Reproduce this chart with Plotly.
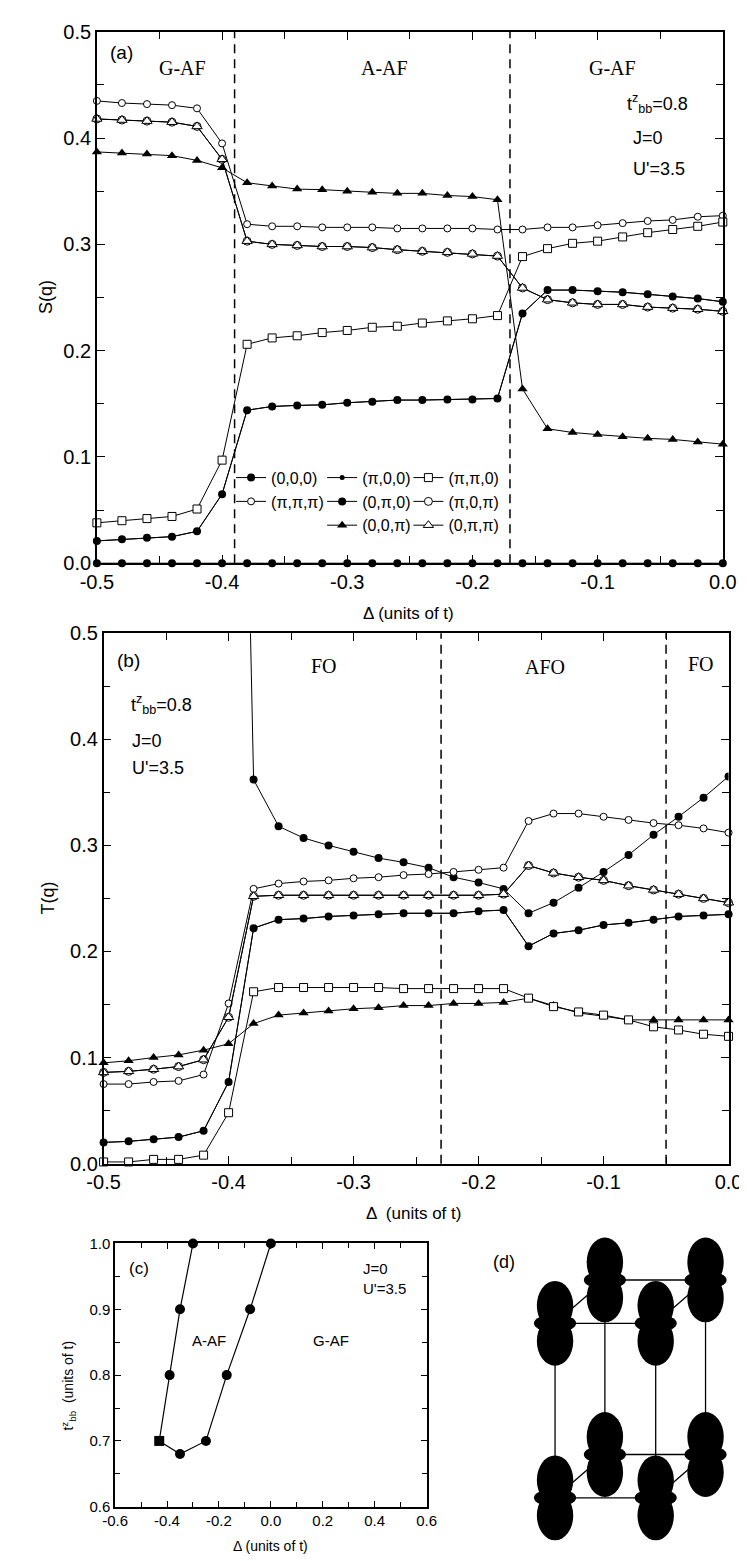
import plotly.graph_objects as go

W, H = 747, 1561

# ========== Data ==========
# common Delta grid (units of t) for panels (a) and (b)
delta = [-0.50, -0.48, -0.46, -0.44, -0.42, -0.40, -0.38, -0.36, -0.34, -0.32,
         -0.30, -0.28, -0.26, -0.24, -0.22, -0.20, -0.18, -0.16, -0.14, -0.12,
         -0.10, -0.08, -0.06, -0.04, -0.02, 0.00]

q_labels = ["(0,0,0)", "(π,π,π)", "(π,0,0)", "(0,π,0)",
            "(0,0,π)", "(π,π,0)", "(π,0,π)", "(0,π,π)"]

# (a) spin structure factor S(q)
s_000 = [0.0, 0.0, 0.0, 0.0, 0.0, 0.0, 0.0, 0.0, 0.0, 0.0, 0.0, 0.0, 0.0,
         0.0, 0.0, 0.0, 0.0, 0.0, 0.0, 0.0, 0.0, 0.0, 0.0, 0.0, 0.0, 0.0]
s_pipipi = [0.435, 0.433, 0.432, 0.431, 0.428, 0.395, 0.319, 0.317, 0.317, 0.316,
            0.316, 0.316, 0.315, 0.315, 0.315, 0.315, 0.314, 0.314, 0.316, 0.316,
            0.318, 0.320, 0.322, 0.323, 0.326, 0.327]
s_pi00 = [0.021, 0.0225, 0.024, 0.025, 0.030, 0.065, 0.144, 0.1475, 0.1485, 0.149,
          0.151, 0.152, 0.1535, 0.1535, 0.154, 0.154, 0.155, 0.235, 0.257, 0.257,
          0.256, 0.255, 0.253, 0.251, 0.249, 0.246]
s_0pi0 = [0.021, 0.0225, 0.024, 0.025, 0.030, 0.065, 0.144, 0.1475, 0.1485, 0.149,
          0.151, 0.152, 0.1535, 0.1535, 0.154, 0.154, 0.155, 0.235, 0.257, 0.257,
          0.256, 0.255, 0.253, 0.251, 0.249, 0.246]
s_00pi = [0.387, 0.386, 0.385, 0.3835, 0.379, 0.372, 0.358, 0.355, 0.352, 0.3515,
          0.350, 0.349, 0.348, 0.348, 0.346, 0.345, 0.342, 0.164, 0.1265, 0.123,
          0.121, 0.119, 0.1175, 0.1165, 0.114, 0.112]
s_pipi0 = [0.038, 0.040, 0.042, 0.044, 0.051, 0.097, 0.206, 0.212, 0.214, 0.217,
           0.219, 0.222, 0.223, 0.226, 0.228, 0.230, 0.233, 0.2885, 0.296, 0.301,
           0.303, 0.307, 0.311, 0.314, 0.317, 0.321]
s_pi0pi = [0.418, 0.417, 0.416, 0.415, 0.411, 0.380, 0.303, 0.300, 0.299, 0.298,
           0.298, 0.297, 0.295, 0.2935, 0.2925, 0.291, 0.289, 0.259, 0.248, 0.245,
           0.2435, 0.2435, 0.241, 0.240, 0.239, 0.237]
s_0pipi = [0.418, 0.417, 0.416, 0.415, 0.411, 0.380, 0.303, 0.300, 0.299, 0.298,
           0.298, 0.297, 0.295, 0.2935, 0.2925, 0.291, 0.289, 0.259, 0.248, 0.245,
           0.2435, 0.2435, 0.241, 0.240, 0.239, 0.237]

# (b) orbital structure factor T(q)  (T(0,0,0) runs off the top for Delta <= -0.40)
t_000 = [None, None, None, None, None, 1.47, 0.362, 0.318, 0.307, 0.300,
         0.294, 0.288, 0.284, 0.279, 0.270, 0.265, 0.259, 0.236, 0.246, 0.260,
         0.275, 0.291, 0.310, 0.327, 0.345, 0.365]
t_pipipi = [0.075, 0.075, 0.077, 0.078, 0.084, 0.151, 0.259, 0.264, 0.266, 0.267,
            0.269, 0.270, 0.272, 0.273, 0.275, 0.277, 0.279, 0.323, 0.330, 0.330,
            0.327, 0.324, 0.321, 0.319, 0.316, 0.312]
t_pi00 = [0.020, 0.021, 0.023, 0.025, 0.031, 0.077, 0.222, 0.230, 0.231, 0.233,
          0.234, 0.235, 0.236, 0.236, 0.236, 0.238, 0.239, 0.205, 0.217, 0.220,
          0.225, 0.227, 0.230, 0.233, 0.234, 0.235]
t_0pi0 = [0.020, 0.021, 0.023, 0.025, 0.031, 0.077, 0.222, 0.230, 0.231, 0.233,
          0.234, 0.235, 0.236, 0.236, 0.236, 0.238, 0.239, 0.205, 0.217, 0.220,
          0.225, 0.227, 0.230, 0.233, 0.234, 0.235]
t_00pi = [0.095, 0.097, 0.100, 0.1025, 0.107, 0.113, 0.132, 0.140, 0.142, 0.144,
          0.146, 0.147, 0.149, 0.149, 0.151, 0.151, 0.152, 0.156, 0.149, 0.142,
          0.139, 0.1355, 0.1355, 0.1355, 0.1355, 0.1355]
t_pipi0 = [0.0016, 0.0016, 0.004, 0.004, 0.008, 0.048, 0.162, 0.166, 0.166, 0.166,
           0.166, 0.166, 0.165, 0.165, 0.165, 0.165, 0.165, 0.156, 0.148, 0.143,
           0.140, 0.1355, 0.129, 0.126, 0.122, 0.120]
t_pi0pi = [0.086, 0.087, 0.089, 0.0915, 0.098, 0.138, 0.252, 0.253, 0.253, 0.253,
           0.253, 0.253, 0.253, 0.253, 0.253, 0.253, 0.254, 0.281, 0.274, 0.270,
           0.267, 0.262, 0.258, 0.254, 0.250, 0.246]
t_0pipi = [0.086, 0.087, 0.089, 0.0915, 0.098, 0.138, 0.252, 0.253, 0.253, 0.253,
           0.253, 0.253, 0.253, 0.253, 0.253, 0.253, 0.254, 0.281, 0.274, 0.270,
           0.267, 0.262, 0.258, 0.254, 0.250, 0.246]

# phase boundaries (dashed lines)
a_boundaries = [-0.39, -0.17]
b_boundaries = [-0.23, -0.05]

# (c) phase diagram boundary, Delta vs t^z_bb
c_delta = [-0.30, -0.35, -0.39, -0.43, -0.35, -0.25, -0.17, -0.08, 0.00]
c_tbb = [1.00, 0.90, 0.80, 0.70, 0.68, 0.70, 0.80, 0.90, 1.00]

# (d) 2x2x2 cluster sites
site_i = [0, 1, 0, 1, 0, 1, 0, 1]
site_j = [0, 0, 1, 1, 0, 0, 1, 1]
site_k = [0, 0, 0, 0, 1, 1, 1, 1]

x_ticks = [-0.5, -0.4, -0.3, -0.2, -0.1, 0.0]
x_ticktext = ["-0.5", "-0.4", "-0.3", "-0.2", "-0.1", "0.0"]
c_xticks = [-0.6, -0.4, -0.2, 0.0, 0.2, 0.4, 0.6]
c_xticktext = ["-0.6", "-0.4", "-0.2", "0.0", "0.2", "0.4", "0.6"]


def px(x):
    return x / W


def py(y):
    return 1 - y / H


# ========== Marker styles ==========
def filled(sym, size):
    return dict(symbol=sym, size=size, color="black", line=dict(color="black", width=0))


def hollow(sym, size):
    return dict(symbol=sym, size=size, color="white", line=dict(color="black", width=1))


styles = [filled("circle", 8), hollow("circle", 7), filled("circle", 5), filled("circle", 8),
          filled("triangle-up", 9), hollow("square", 8), hollow("circle", 8), hollow("triangle-up", 9)]
legend_of = ["legend", "legend", "legend2", "legend2", "legend2", "legend3", "legend3", "legend3"]

a_series = [s_000, s_pipipi, s_pi00, s_0pi0, s_00pi, s_pipi0, s_pi0pi, s_0pipi]
b_series = [t_000, t_pipipi, t_pi00, t_0pi0, t_00pi, t_pipi0, t_pi0pi, t_0pipi]

fig = go.Figure()

for name, vals, st, lg in zip(q_labels, a_series, styles, legend_of):
    fig.add_trace(go.Scatter(x=delta, y=vals, name=name, mode="lines+markers",
                             line=dict(color="black", width=1), marker=st,
                             legend=lg, cliponaxis=False, xaxis="x", yaxis="y"))

for name, vals, st in zip(q_labels, b_series, styles):
    fig.add_trace(go.Scatter(x=delta, y=vals, name=name, mode="lines+markers",
                             line=dict(color="black", width=1), marker=st,
                             showlegend=False, cliponaxis=(name == "(0,0,0)"),
                             xaxis="x2", yaxis="y2"))

c_symbols = ["circle", "circle", "circle", "square", "circle", "circle", "circle", "circle", "circle"]
fig.add_trace(go.Scatter(x=c_delta, y=c_tbb, mode="lines+markers", showlegend=False,
                         line=dict(color="black", width=1.2),
                         marker=dict(symbol=c_symbols, size=10, color="black"),
                         cliponaxis=False, xaxis="x3", yaxis="y3"))

# ---- (d) cluster drawing: oblique projection of the cube ----
ox, oy, a_len, h_len, dx, dy = 73, 61, 105, 177, 52, 44
cx = [ox + i * a_len + j * dx for i, j in zip(site_i, site_j)]
cy = [oy + k * h_len + j * dy for k, j in zip(site_k, site_j)]

ex, ey = [], []
for p in range(8):
    for q in range(p + 1, 8):
        diff = abs(site_i[p] - site_i[q]) + abs(site_j[p] - site_j[q]) + abs(site_k[p] - site_k[q])
        if diff == 1:
            ex += [cx[p], cx[q], None]
            ey += [cy[p], cy[q], None]
fig.add_trace(go.Scatter(x=ex, y=ey, mode="lines", showlegend=False,
                         line=dict(color="black", width=1.3), xaxis="x4", yaxis="y4"))

shapes = []
for X, Y in zip(cx, cy):
    # two lobes plus the equatorial ring of a 3z^2-r^2 orbital
    for y0, y1 in [(Y - 7, Y + 43), (Y - 43, Y + 7)]:
        shapes.append(dict(type="circle", xref="x4", yref="y4", x0=X - 19, x1=X + 19,
                           y0=y0, y1=y1, fillcolor="black", line=dict(width=0), layer="above"))
    shapes.append(dict(type="circle", xref="x4", yref="y4", x0=X - 22, x1=X + 22,
                       y0=Y - 9, y1=Y + 9, fillcolor="black", line=dict(width=0), layer="above"))

for xb in a_boundaries:
    shapes.append(dict(type="line", xref="x", yref="y domain", x0=xb, x1=xb, y0=0, y1=1,
                       line=dict(color="black", width=1.5, dash="9px,6px")))
for xb in b_boundaries:
    shapes.append(dict(type="line", xref="x2", yref="y2 domain", x0=xb, x1=xb, y0=0, y1=1,
                       line=dict(color="black", width=1.5, dash="9px,6px")))

# ========== Axes ==========
sans = "Liberation Sans"
serif = "Liberation Serif"


def frame_axis(domain, rng, tickfont, **kw):
    d = dict(domain=domain, range=rng, showline=True, linecolor="black", linewidth=1.5,
             mirror="ticks", ticks="inside", ticklen=8, tickwidth=1.2, tickcolor="black",
             showgrid=False, zeroline=False, tickfont=dict(family=sans, size=tickfont, color="black"))
    d.update(kw)
    return d


layout_axes = dict(
    xaxis=frame_axis([px(75), px(728)], [-0.5, 0.0], 20, anchor="y",
                     tickvals=x_ticks, ticktext=x_ticktext,
                     minor=dict(dtick=0.05, ticks="inside", ticklen=7, tickcolor="black")),
    yaxis=frame_axis([py(552), py(13)], [0, 0.5], 20, anchor="x", dtick=0.1, tickformat=".1f",
                     minor=dict(dtick=0.05, ticks="inside", ticklen=7, tickcolor="black")),
    xaxis2=frame_axis([px(82), px(734)], [-0.5, 0.0], 20, anchor="y2",
                      tickvals=x_ticks, ticktext=x_ticktext,
                      minor=dict(dtick=0.05, ticks="inside", ticklen=7, tickcolor="black")),
    yaxis2=frame_axis([py(1161), py(623)], [0, 0.5], 20, anchor="x2", dtick=0.1, tickformat=".1f",
                      minor=dict(dtick=0.05, ticks="inside", ticklen=7, tickcolor="black")),
    xaxis3=frame_axis([px(94), px(419)], [-0.6, 0.6], 15, anchor="y3", ticklen=6,
                      tickvals=c_xticks, ticktext=c_xticktext,
                      minor=dict(dtick=0.1, ticks="inside", ticklen=5, tickcolor="black")),
    yaxis3=frame_axis([py(1509), py(1242)], [0.6, 1.0], 15, anchor="x3", ticklen=6,
                      dtick=0.1, tickformat=".1f",
                      minor=dict(dtick=0.05, ticks="inside", ticklen=5, tickcolor="black")),
    xaxis4=dict(domain=[px(480), 1.0], range=[0, 267], visible=False, anchor="y4"),
    yaxis4=dict(domain=[0.0, py(1225)], range=[0, 336], visible=False, anchor="x4"),
)


def note(text, x, y, size, family=sans, xanchor="center", angle=0):
    return dict(text=text, x=px(x), y=py(y), xref="paper", yref="paper", showarrow=False,
                xanchor=xanchor, yanchor="middle", textangle=angle,
                font=dict(family=family, size=size, color="black"))


tbb = "t<sup>z</sup><sub>bb</sub>"
annotations = [
    # panel (a)
    note("(a)", 101, 34, 19),
    note("G-AF", 164, 50, 20, serif),
    note("A-AF", 375, 50, 20, serif),
    note("G-AF", 613, 50, 20, serif),
    note(tbb + "=0.8", 626, 86, 18, xanchor="left"),
    note("J=0", 632, 121, 18, xanchor="left"),
    note("U'=3.5", 632, 152, 18, xanchor="left"),
    note("S(q)", 22, 282, 18, angle=-90),
    note("Δ (units of t)", 400, 603, 17),
    # panel (b)
    note("(b)", 108, 651, 19),
    note("FO", 312, 656, 20, serif),
    note("AFO", 543, 657, 20, serif),
    note("FO", 705, 654, 20, serif),
    note(tbb + "=0.8", 108, 695, 18, xanchor="left"),
    note("J=0", 110, 732, 18, xanchor="left"),
    note("U'=3.5", 110, 760, 18, xanchor="left"),
    note("T(q)", 24, 892, 18, angle=-90),
    note("Δ  (units of t)", 405, 1212, 17),
    # panel (c)
    note("(c)", 119, 1267, 17),
    note("A-AF", 192, 1340, 15),
    note("G-AF", 319, 1340, 15),
    note("J=0", 351, 1267, 15, xanchor="left"),
    note("U'=3.5", 351, 1288, 15, xanchor="left"),
    note(tbb + "  (units of t)", 46, 1386, 14, angle=-90),
    note("Δ (units of t)", 256, 1549, 14),
    # panel (d)
    note("(d)", 500, 1261, 18),
]

legend_common = dict(bgcolor="rgba(0,0,0,0)", borderwidth=0, xanchor="left", yanchor="top",
                     xref="paper", yref="paper", font=dict(family=sans, size=16, color="black"),
                     tracegroupgap=0, itemwidth=30)

fig.update_layout(
    width=W, height=H, autosize=False,
    margin=dict(l=0, r=0, t=0, b=0),
    paper_bgcolor="white", plot_bgcolor="white",
    shapes=shapes, annotations=annotations,
    legend=dict(x=px(215), y=py(448), **legend_common),
    legend2=dict(x=px(310), y=py(448), **legend_common),
    legend3=dict(x=px(400), y=py(448), **legend_common),
    **layout_axes,
)

fig.write_html("out.html")
